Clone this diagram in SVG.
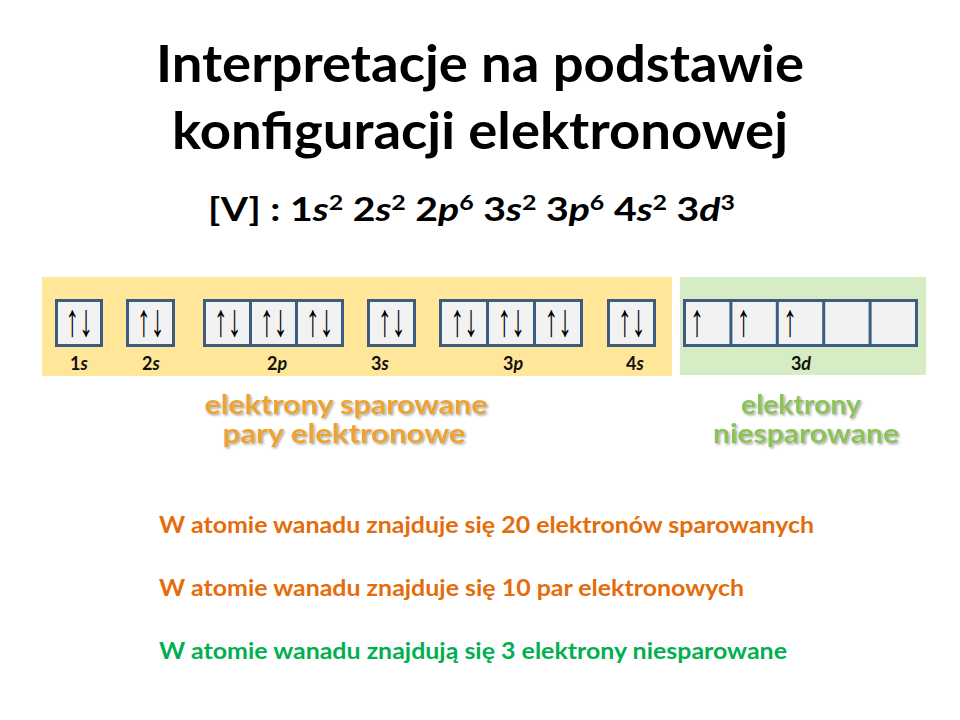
<svg xmlns="http://www.w3.org/2000/svg" width="960" height="720" viewBox="0 0 960 720">
<style>
.t{font-family:Lato,"Open Sans","Liberation Sans",sans-serif;font-weight:bold}
.title{font-size:51px;fill:#000;text-anchor:middle}
.cfg{font-size:33px;fill:#000}
.sup{font-size:21px}
.it{font-style:italic}
.box{fill:#F2F2F2;stroke:#3E5C80;stroke-width:3}
.div{stroke:#3E5C80;stroke-width:3}
.arr{font-family:"Liberation Sans",Arial,sans-serif;font-size:46px;fill:#000;text-anchor:middle}
.lbl{font-size:18px;fill:#111;text-anchor:middle}
.orng{font-size:26px;fill:#EDA332;text-anchor:middle;filter:url(#sh)}
.grn{font-size:26px;fill:#8DC25A;text-anchor:middle;filter:url(#sh)}
.line{font-size:23.5px}
</style>
<defs>
<filter id="sh" x="-10%" y="-30%" width="120%" height="160%">
<feDropShadow dx="1.5" dy="1.5" stdDeviation="0.8" flood-color="#000" flood-opacity="0.35"/>
</filter>
</defs>
<rect width="960" height="720" fill="#fff"/>

<g id="title">
<text class="t title" x="480" y="82" textLength="648" lengthAdjust="spacingAndGlyphs">Interpretacje na podstawie</text>
<text class="t title" x="480" y="149" textLength="616" lengthAdjust="spacingAndGlyphs">konfiguracji elektronowej</text>
</g>

<g id="config">
<text class="t cfg" x="208" y="221" textLength="527" lengthAdjust="spacingAndGlyphs">[V] : 1<tspan class="it">s</tspan><tspan class="sup" dy="-11">2</tspan><tspan dy="11"> 2</tspan><tspan class="it">s</tspan><tspan class="sup" dy="-11">2</tspan><tspan dy="11"> 2</tspan><tspan class="it">p</tspan><tspan class="sup" dy="-11">6</tspan><tspan dy="11"> 3</tspan><tspan class="it">s</tspan><tspan class="sup" dy="-11">2</tspan><tspan dy="11"> 3</tspan><tspan class="it">p</tspan><tspan class="sup" dy="-11">6</tspan><tspan dy="11"> 4</tspan><tspan class="it">s</tspan><tspan class="sup" dy="-11">2</tspan><tspan dy="11"> 3</tspan><tspan class="it">d</tspan><tspan class="sup" dy="-11">3</tspan></text>
</g>

<g id="paired-area">
<rect x="42" y="277" width="630" height="99" fill="#FFE699"/>
</g>
<g id="unpaired-area">
<rect x="680" y="277" width="246" height="98" fill="#D6ECC4"/>
</g>

<g id="orb-1s">
<rect class="box" x="56.5" y="300.5" width="45" height="45"/>
<text class="arr" transform="translate(79 336) scale(0.6 1)">↑↓</text>
<text class="t lbl" x="79" y="370">1<tspan class="it">s</tspan></text>
</g>
<g id="orb-2s">
<rect class="box" x="127.5" y="300.5" width="46" height="45"/>
<text class="arr" transform="translate(150.5 336) scale(0.6 1)">↑↓</text>
<text class="t lbl" x="151" y="370">2<tspan class="it">s</tspan></text>
</g>
<g id="orb-2p">
<rect class="box" x="204.5" y="300.5" width="138" height="45"/>
<line class="div" x1="250.5" y1="300.5" x2="250.5" y2="345.5"/>
<line class="div" x1="296.5" y1="300.5" x2="296.5" y2="345.5"/>
<text class="arr" transform="translate(227.5 336) scale(0.6 1)">↑↓</text>
<text class="arr" transform="translate(273.5 336) scale(0.6 1)">↑↓</text>
<text class="arr" transform="translate(319.5 336) scale(0.6 1)">↑↓</text>
<text class="t lbl" x="277" y="370">2<tspan class="it">p</tspan></text>
</g>
<g id="orb-3s">
<rect class="box" x="368.5" y="300.5" width="46" height="45"/>
<text class="arr" transform="translate(391.5 336) scale(0.6 1)">↑↓</text>
<text class="t lbl" x="380" y="370">3<tspan class="it">s</tspan></text>
</g>
<g id="orb-3p">
<rect class="box" x="440.5" y="300.5" width="141" height="45"/>
<line class="div" x1="487.5" y1="300.5" x2="487.5" y2="345.5"/>
<line class="div" x1="534.5" y1="300.5" x2="534.5" y2="345.5"/>
<text class="arr" transform="translate(464 336) scale(0.6 1)">↑↓</text>
<text class="arr" transform="translate(511 336) scale(0.6 1)">↑↓</text>
<text class="arr" transform="translate(558 336) scale(0.6 1)">↑↓</text>
<text class="t lbl" x="513" y="370">3<tspan class="it">p</tspan></text>
</g>
<g id="orb-4s">
<rect class="box" x="608.5" y="300.5" width="46" height="45"/>
<text class="arr" transform="translate(631.5 336) scale(0.6 1)">↑↓</text>
<text class="t lbl" x="635" y="370">4<tspan class="it">s</tspan></text>
</g>
<g id="orb-3d">
<rect class="box" x="684.5" y="300.5" width="232" height="45"/>
<line class="div" x1="730.9" y1="300.5" x2="730.9" y2="345.5"/>
<line class="div" x1="777.3" y1="300.5" x2="777.3" y2="345.5"/>
<line class="div" x1="823.7" y1="300.5" x2="823.7" y2="345.5"/>
<line class="div" x1="870.1" y1="300.5" x2="870.1" y2="345.5"/>
<text class="arr" transform="translate(697 336) scale(0.6 1)">↑</text>
<text class="arr" transform="translate(743.5 336) scale(0.6 1)">↑</text>
<text class="arr" transform="translate(790 336) scale(0.6 1)">↑</text>
<text class="t lbl" x="801" y="370">3<tspan class="it">d</tspan></text>
</g>

<g id="label-paired">
<text class="t orng" x="346" y="414" textLength="283" lengthAdjust="spacingAndGlyphs">elektrony sparowane</text>
<text class="t orng" x="344" y="443" textLength="243" lengthAdjust="spacingAndGlyphs">pary elektronowe</text>
</g>
<g id="label-unpaired">
<text class="t grn" x="801" y="414" textLength="120" lengthAdjust="spacingAndGlyphs">elektrony</text>
<text class="t grn" x="806" y="443" textLength="186" lengthAdjust="spacingAndGlyphs">niesparowane</text>
</g>

<g id="statements">
<text class="t line" x="159" y="533" fill="#E46C0A" textLength="655" lengthAdjust="spacingAndGlyphs">W atomie wanadu znajduje się 20 elektronów sparowanych</text>
<text class="t line" x="159" y="596" fill="#E46C0A" textLength="585" lengthAdjust="spacingAndGlyphs">W atomie wanadu znajduje się 10 par elektronowych</text>
<text class="t line" x="159" y="659" fill="#00B050" textLength="628" lengthAdjust="spacingAndGlyphs">W atomie wanadu znajdują się 3 elektrony niesparowane</text>
</g>
</svg>
